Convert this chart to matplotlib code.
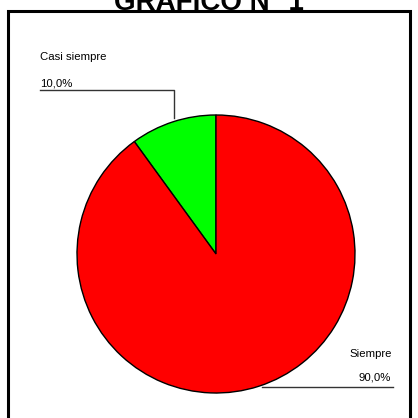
import matplotlib.pyplot as plt
from matplotlib.patches import Rectangle

# Data
categorias = ["Casi siempre", "Siempre"]
porcentajes = [10.0, 90.0]
colores = ["#00FF00", "#FF0000"]
titulo = "GRAFICO N° 1"

W = H = 418

plt.rcParams['font.family'] = ['Liberation Sans', 'DejaVu Sans']

fig = plt.figure(figsize=(W / 100, H / 100), dpi=100)
ax = fig.add_axes([0, 0, 1, 1])


def py(y):
    # pixel row (from top) -> data y
    return H - y


# pie
cx, cy, r = 216, py(254), 139
ax.pie(porcentajes, colors=colores, startangle=90, counterclock=True,
       center=(cx, cy), radius=r, frame=True,
       wedgeprops=dict(edgecolor='black', linewidth=1.0))
ax.set_xlim(0, W)
ax.set_ylim(0, H)
ax.set_aspect('equal')
ax.axis('off')

# frame
ax.add_patch(Rectangle((8, py(425)), 402, 414, fill=False, lw=2.2,
                       edgecolor='black', clip_on=False))

# title (clipped at top of image, as in the original)
ax.text(209, py(10), titulo, ha='center', va='baseline', fontsize=20,
        fontweight='bold')

# labels with leader lines
etiquetas = [f"{v:.1f}%".replace('.', ',') for v in porcentajes]

ax.text(40, py(57), categorias[0], ha='left', va='center', fontsize=8.2)
ax.text(40, py(83), etiquetas[0], ha='left', va='center', fontsize=8.2)
ax.plot([40, 174, 174], [py(90), py(90), py(118)], color='#333333', lw=1)

ax.text(392, py(354), categorias[1], ha='right', va='center', fontsize=8.2)
ax.text(391, py(377), etiquetas[1], ha='right', va='center', fontsize=8.2)
ax.plot([262, 393], [py(387), py(387)], color='#333333', lw=1)

fig.savefig("out.png", dpi=100)
